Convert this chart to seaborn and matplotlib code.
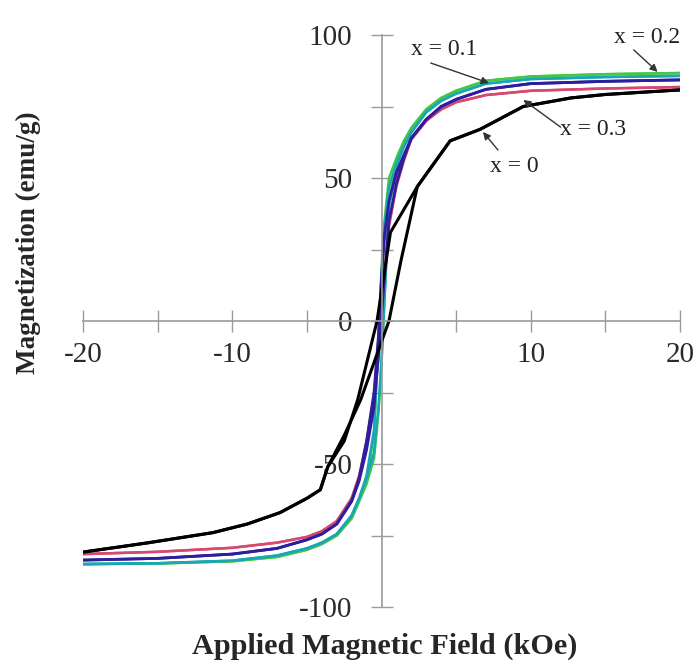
import numpy as np
import pandas as pd
import matplotlib
matplotlib.use("Agg")
import matplotlib.pyplot as plt
import seaborn as sns

# ---------------- data ----------------
# common field grid for the coloured loops (descending branch); the
# ascending branch uses the same grid reversed
H_grid = [20, 15, 10, 7, 5, 4, 3, 2, 1.5, 1, 0.5, 0.2, 0, -0.2, -0.5,
          -1, -1.5, -2, -3, -4, -5, -7, -10, -15, -20]

green_down = [86.7, 86.3, 85.5, 84, 80.5, 78, 74, 67.5, 63, 57, 50, 35, 18, -5, -40,
              -56, -63, -69, -75, -78, -80, -82.5, -84, -84.8, -85]
green_up = [-85, -84.8, -84, -82.5, -80, -78, -75, -69, -63, -57, -48, -32, -15, 8, 42,
            56, 62.5, 67.5, 74, 78, 80.5, 84, 85.5, 86.3, 86.7]

cyan_down = [85.7, 85.3, 84.6, 83, 79.5, 77, 73, 66, 61, 55, 47, 33, 16, -6, -38,
             -54, -62, -68, -74.5, -77.5, -79.5, -82, -83.8, -84.7, -85]
cyan_up = [-85, -84.7, -83.8, -82, -79.5, -77.5, -74.5, -68, -62, -55, -46, -30, -14, 7, 40,
           54, 61, 66, 73, 77, 79.5, 83, 84.6, 85.3, 85.7]

blue_down = [84.3, 83.8, 83, 81, 77.5, 75, 70.5, 64, 58, 52, 42, 30, 15, -5, -25,
             -42, -55, -63, -71, -74.5, -76.5, -79.5, -81.5, -83, -83.6]
blue_up = [-83.6, -83, -81.5, -79.5, -76.5, -74.5, -71, -63, -56, -45, -30, -12, 2, 15, 35,
           48, 57, 64, 70.5, 75, 77.5, 81, 83, 83.8, 84.3]

red_down = [81.8, 81.3, 80.5, 79, 76.5, 74, 70, 63.5, 58, 51, 41, 29, 14, -6, -26,
            -42, -54, -62, -70, -73.5, -75.5, -77.5, -79.3, -80.7, -81.5]
red_up = [-81.5, -80.7, -79.3, -77.5, -75.5, -73.5, -70, -62, -55, -44, -29, -12, 2, 14, 33,
          47, 56, 63.5, 70, 74, 76.5, 79, 80.5, 81.3, 81.8]

# x = 0 sample (black), wider loop
black_down_H = [20, 15, 12.7, 9.5, 6.6, 4.6, 2.4, 0.6, -0.3, -1.6, -2.5, -3.6, -4.1,
                -5, -6.8, -9, -11.3, -15.7, -20]
black_down_M = [80.8, 79.2, 78, 75, 67, 63, 47, 31, 0, -27.6, -42, -51, -59,
                -62, -67, -71, -74, -77.6, -80.8]
black_up_H = [-20, -15.7, -11.3, -9, -6.8, -5, -4.1, -3.6, -2.5, -1.4, 0.5, 1.3, 2.4,
              4.6, 6.6, 9.5, 12.7, 15, 20]
black_up_M = [-80.8, -77.6, -74, -71, -67, -62, -59, -51, -40, -27.6, 0, 21, 47,
              63, 67, 75, 78, 79.2, 80.8]

x_ticks = [-20, -15, -10, -5, 0, 5, 10, 15, 20]
x_tick_labels = ["-20", "", "-10", "", "", "", "10", "", "20"]
y_ticks = [-100, -75, -50, -25, 0, 25, 50, 75, 100]
y_tick_labels = ["-100", "", "-50", "", "0", "", "50", "", "100"]

# label text, label position, arrow tail, arrow head
annotations = [
    ("x = 0.1", (4.2, 95), (3.3, 90.2), (7.2, 83.2)),
    ("x = 0.2", (17.8, 99), (16.9, 94.8), (18.5, 87.1)),
    ("x = 0.3", (14.2, 67), (12.0, 67.8), (9.5, 77.3)),
    ("x = 0", (8.9, 54), (7.8, 59.8), (6.8, 66.1)),
]

# ---------------- build table ----------------
rows = []
def add(name, H, M, branch):
    for h, m in zip(H, M):
        rows.append({"H": h, "M": m, "sample": name, "branch": branch})

add("red", H_grid, red_down, "down")
add("red", H_grid[::-1], red_up, "up")
add("green", H_grid, green_down, "down")
add("green", H_grid[::-1], green_up, "up")
add("cyan", H_grid, cyan_down, "down")
add("cyan", H_grid[::-1], cyan_up, "up")
add("blue", H_grid, blue_down, "down")
add("blue", H_grid[::-1], blue_up, "up")
add("black", black_down_H, black_down_M, "down")
add("black", black_up_H, black_up_M, "up")
df = pd.DataFrame(rows)

palette = {"red": "#d8486e", "green": "#44c844", "cyan": "#1aa6b6",
           "blue": "#2c1e9c", "black": "#000000"}
widths = {"red": 1.8, "green": 1.8, "cyan": 1.8, "blue": 2.0, "black": 2.2}
order = ["red", "green", "cyan", "blue", "black"]

# ---------------- plot ----------------
sns.set_style("white")
plt.rcParams["font.family"] = ["Liberation Serif", "DejaVu Serif"]

fig = plt.figure(figsize=(6.97, 6.63), dpi=100)
ax = fig.add_axes([83 / 697, 1 - 607 / 663, (680 - 83) / 697, (607 - 35) / 663])

for name in order:
    sns.lineplot(data=df[df["sample"] == name], x="H", y="M", units="branch",
                 estimator=None, sort=False, color=palette[name],
                 linewidth=widths[name], legend=False, ax=ax)

ax.set_xlim(-20, 20)
ax.set_ylim(-100, 100)
for s in ["top", "right"]:
    ax.spines[s].set_visible(False)
ax.spines["left"].set_position(("data", 0))
ax.spines["bottom"].set_position(("data", 0))
for s in ["left", "bottom"]:
    ax.spines[s].set_color("#9a9a9a")
    ax.spines[s].set_linewidth(1.2)
ax.set_xticks(x_ticks)
ax.set_xticklabels(x_tick_labels)
ax.set_yticks(y_ticks)
ax.set_yticklabels(y_tick_labels)
ax.tick_params(axis="both", direction="inout", length=16, width=1.0,
               color="#9a9a9a", labelsize=21, labelcolor="#2a2a2a",
               bottom=True, left=True)
ax.tick_params(axis="x", pad=7)
ax.tick_params(axis="y", pad=13)
ax.set_xlabel("")
ax.set_ylabel("")
ax.patch.set_alpha(0)

for txt, pos, tail, head in annotations:
    ax.text(pos[0], pos[1], txt, ha="center", va="center", fontsize=17,
            color="#222222")
    ax.annotate("", xy=head, xytext=tail,
                arrowprops=dict(arrowstyle="-|>", color="#333333", lw=1.0,
                                shrinkA=0, shrinkB=0, mutation_scale=11))

fig.text(385 / 697, 1 - 646 / 663, "Applied Magnetic Field (kOe)", ha="center",
         va="center", fontsize=21.8, fontweight="bold")
fig.text(28 / 697, 1 - 243 / 663, "Magnetization (emu/g)", ha="center",
         va="center", rotation=90, fontsize=19.5, fontweight="bold")

fig.savefig("out.png", dpi=100)
